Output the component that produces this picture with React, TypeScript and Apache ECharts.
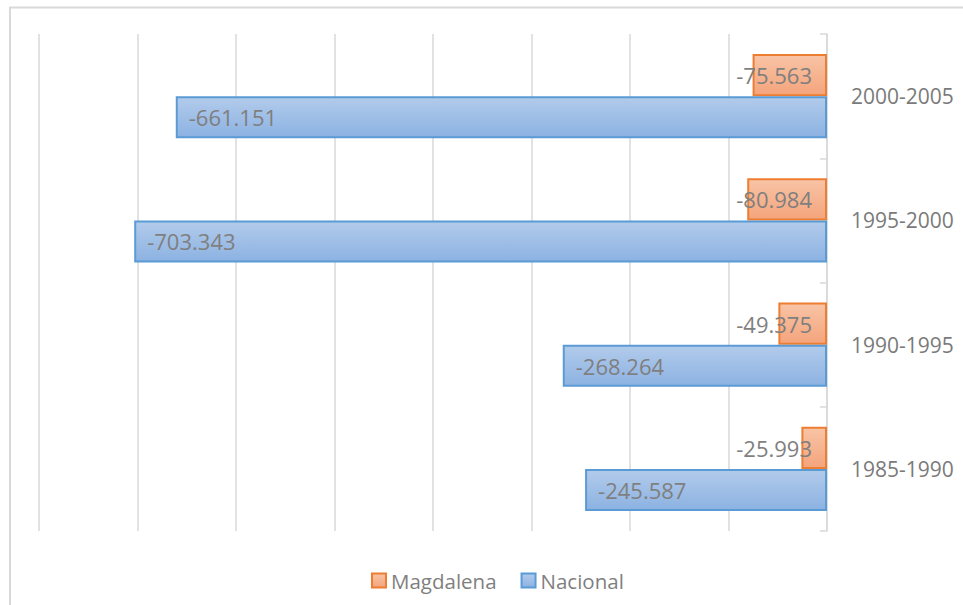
import React, { useEffect, useRef } from "react";
import * as echarts from "echarts";

const categories = ["1985-1990", "1990-1995", "1995-2000", "2000-2005"];
const magdalena = [-25.993, -49.375, -80.984, -75.563];
const nacional = [-245.587, -268.264, -703.343, -661.151];
const seriesNames = ["Magdalena", "Nacional"];

const fmt = (v: number) => v.toFixed(3);

export default function App() {
  const ref = useRef<HTMLDivElement>(null);
  useEffect(() => {
    if (!ref.current) return;
    const chart = echarts.init(ref.current, null, { renderer: "svg" });
    const font = "'Open Sans', 'Noto Sans', sans-serif";
    const orangeFill = new echarts.graphic.LinearGradient(0, 0, 0, 1, [
      { offset: 0, color: "#f8c4a6" },
      { offset: 1, color: "#f4a47c" },
    ]);
    const blueFill = new echarts.graphic.LinearGradient(0, 0, 0, 1, [
      { offset: 0, color: "#b2cbeb" },
      { offset: 1, color: "#8cb2e2" },
    ]);
    chart.setOption({
      animation: false,
      backgroundColor: "#ffffff",
      grid: { left: 39, right: 136, top: 34, bottom: 74, containLabel: false },
      graphic: [
        { type: "line", shape: { x1: 9, y1: 7.5, x2: 963, y2: 7.5 }, style: { stroke: "#d9d9d9", lineWidth: 2 } },
        { type: "line", shape: { x1: 10, y1: 7, x2: 10, y2: 605 }, style: { stroke: "#d9d9d9", lineWidth: 2 } },
      ],
      legend: {
        data: seriesNames,
        left: 366,
        top: 565,
        itemWidth: 14,
        itemHeight: 14,
        itemGap: 24,
        icon: "rect",
        textStyle: { color: "#7f7f7f", fontSize: 20.5, fontFamily: font },
      },
      xAxis: {
        type: "value",
        min: -800,
        max: 0,
        interval: 100,
        axisLabel: { show: false },
        axisLine: { show: false },
        axisTick: { show: false },
        splitLine: { show: true, lineStyle: { color: "#d9d9d9", width: 1.5 } },
      },
      yAxis: {
        type: "category",
        data: categories,
        position: "right",
        axisLine: { show: true, lineStyle: { color: "#d9d9d9", width: 1.5 } },
        axisTick: { show: true, inside: true, length: 7, lineStyle: { color: "#d9d9d9", width: 1.5 } },
        axisLabel: { margin: 24, color: "#7a7a7a", fontSize: 21, fontFamily: font },
      },
      series: [
        {
          name: "Magdalena",
          type: "bar",
          data: magdalena,
          barGap: "0%",
          barCategoryGap: "32%",
          itemStyle: { color: orangeFill, borderColor: "#ed7d31", borderWidth: 2 },
          label: {
            show: true,
            position: "insideRight",
            distance: 15,
            formatter: (p: any) => fmt(p.value),
            color: "#7f7f7f",
            fontSize: 22,
            fontFamily: font,
          },
        },
        {
          name: "Nacional",
          type: "bar",
          data: nacional,
          barGap: "0%",
          barCategoryGap: "32%",
          itemStyle: { color: blueFill, borderColor: "#5b9bd5", borderWidth: 2 },
          label: {
            show: true,
            position: "insideLeft",
            distance: 13,
            formatter: (p: any) => fmt(p.value),
            color: "#7f7f7f",
            fontSize: 22,
            fontFamily: font,
          },
        },
      ],
    });
    return () => chart.dispose();
  }, []);
  return (
    <div
      ref={ref}
      style={{ position: "fixed", left: 0, top: 0, width: 963, height: 605 }}
    />
  );
}
